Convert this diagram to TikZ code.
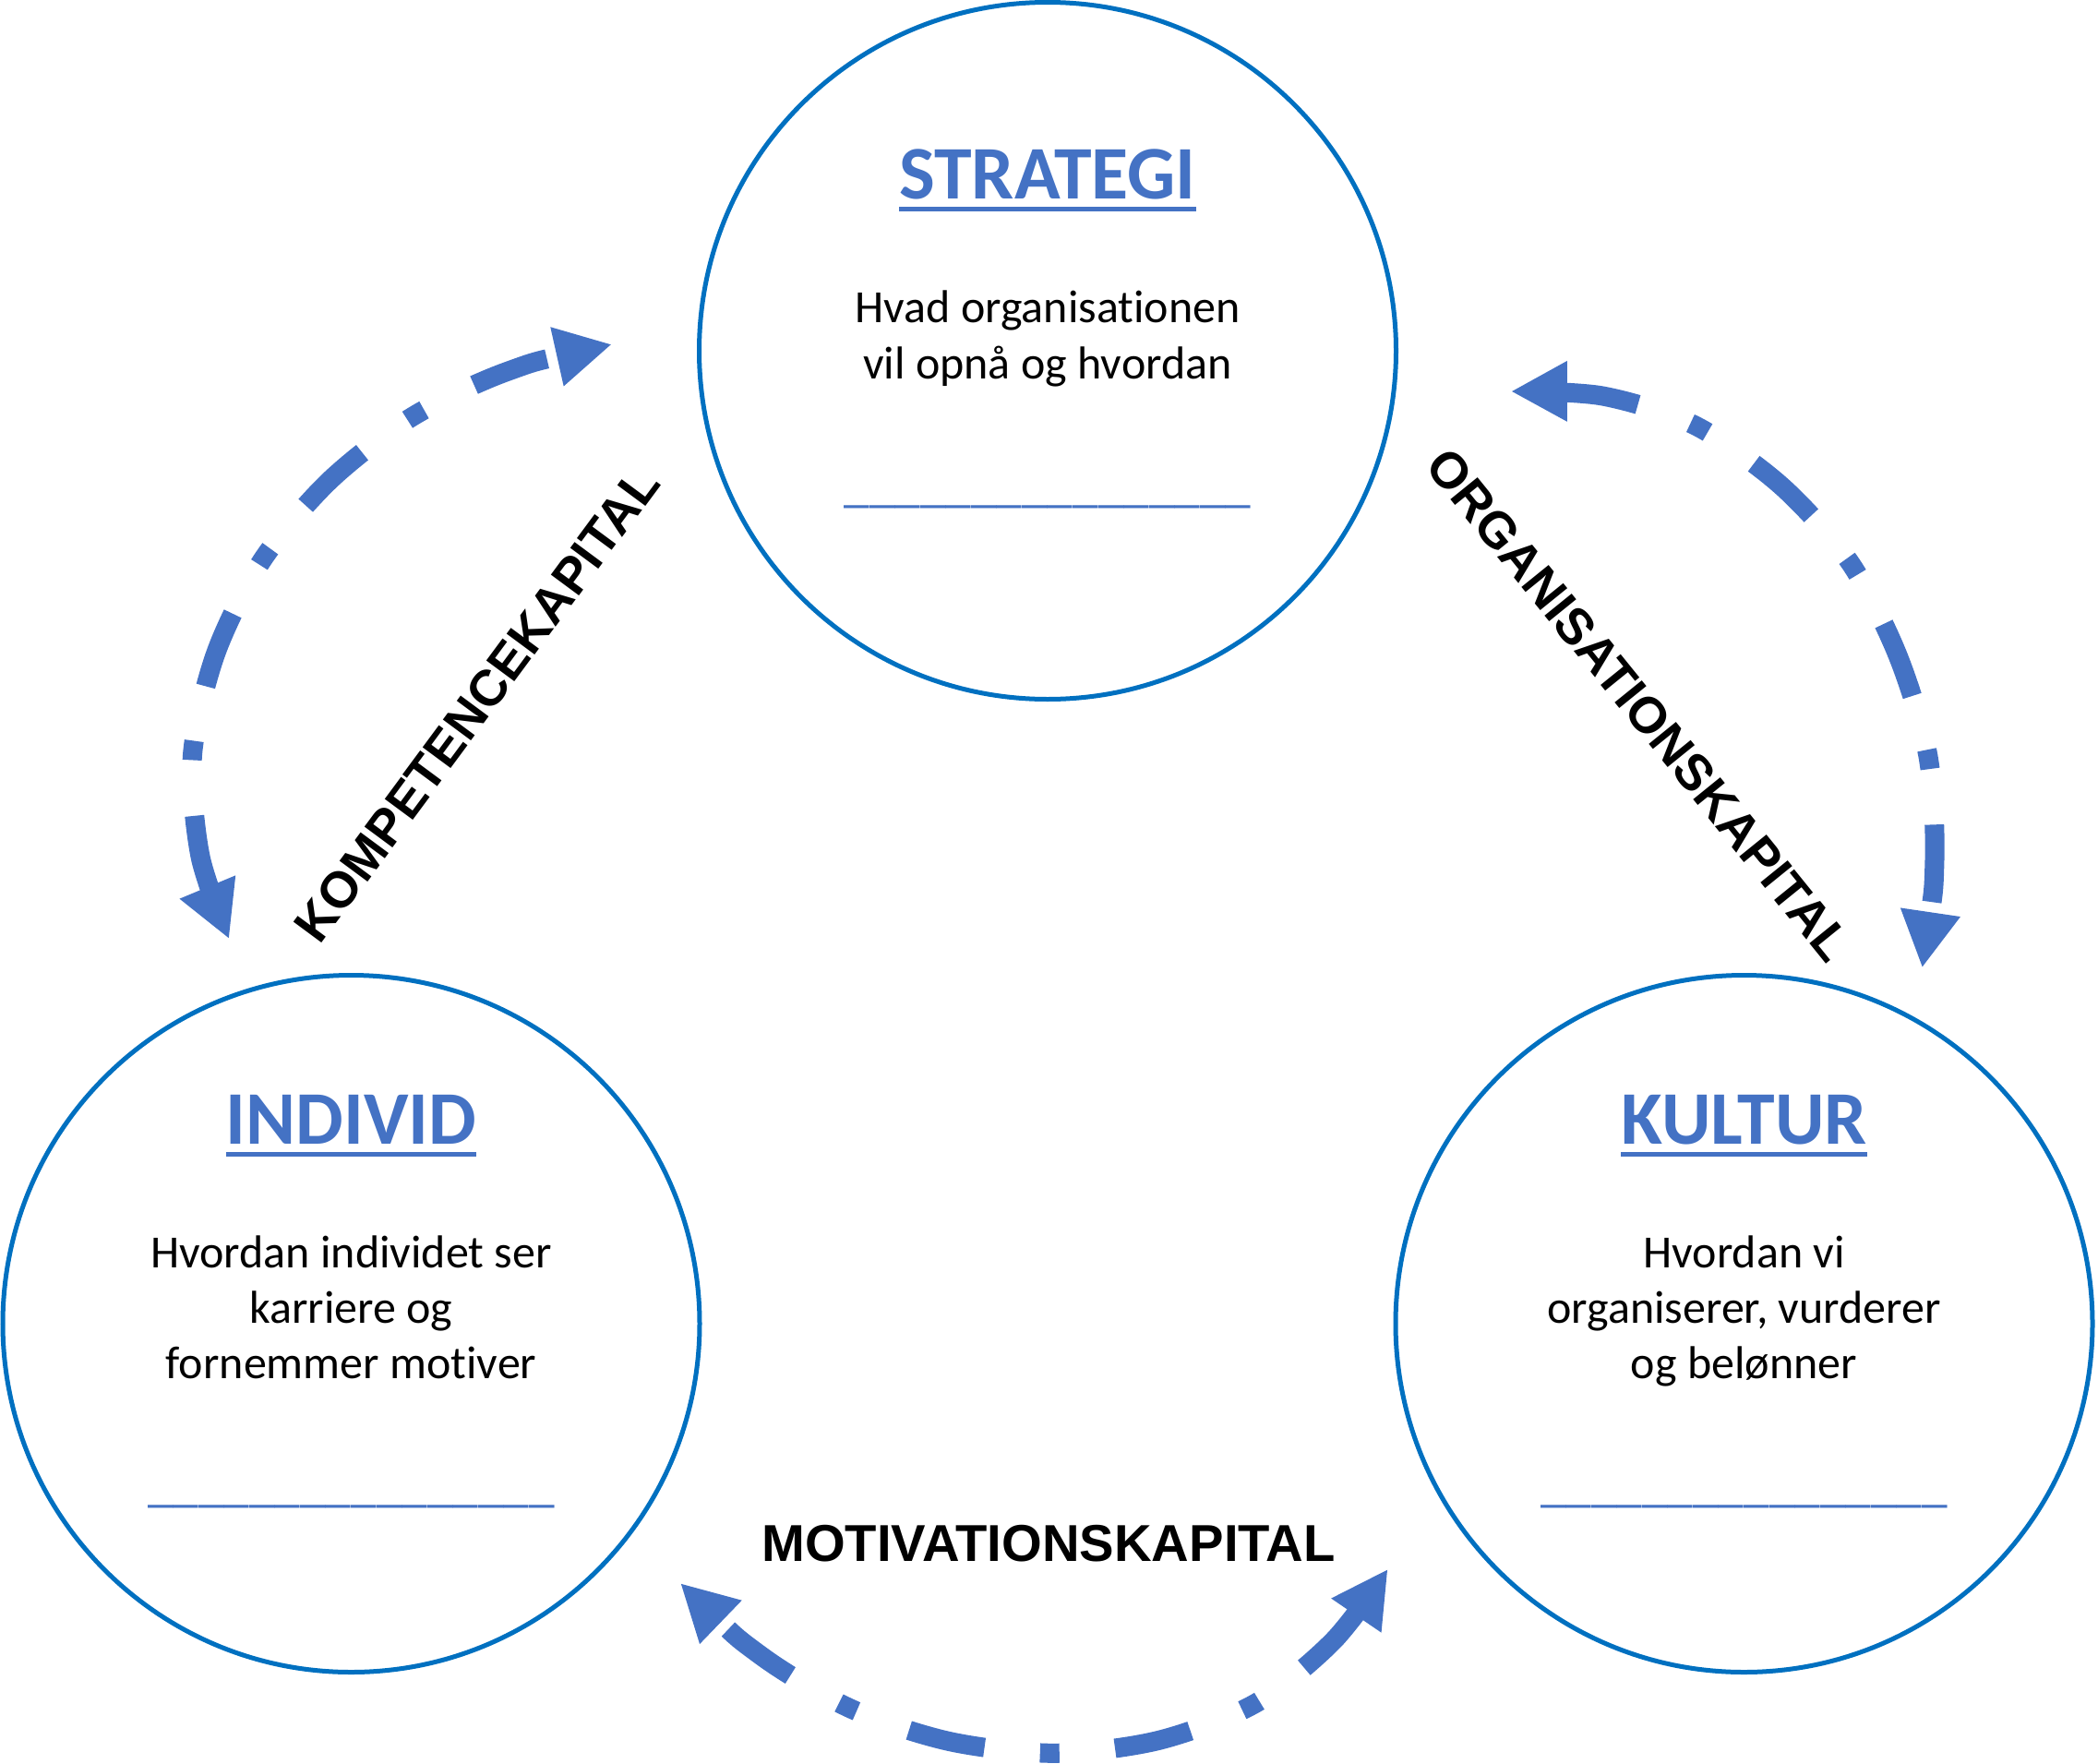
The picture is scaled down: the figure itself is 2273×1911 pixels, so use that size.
\documentclass[tikz,border=0pt]{standalone}
\usepackage{fontspec}
\setmainfont{Carlito}[Ligatures=NoCommon]
\newfontfamily\labfont{Liberation Sans}
\usetikzlibrary{arrows.meta}
\definecolor{ringblue}{HTML}{0070C0}
\definecolor{accent}{HTML}{4472C4}
\begin{document}
\begin{tikzpicture}[x=1pt,y=-1pt,
  ring/.style={circle, draw=ringblue, line width=5pt, minimum size=755pt, inner sep=0pt},
  ttl/.style={font=\fontsize{82}{98}\selectfont\bfseries, text=accent, inner sep=0pt, anchor=base},
  body/.style={font=\fontsize{50}{60}\selectfont, inner sep=0pt, anchor=base},
  blank/.style={font=\fontsize{55.3}{66}\selectfont, text=accent, inner sep=0pt, anchor=base},
  lab/.style={font=\labfont\bfseries\fontsize{55}{66}\selectfont, inner sep=0pt},
  ul/.style={draw=accent, line width=5.3pt},
  flow/.style={draw=accent, line width=21pt,
    dash pattern=on 84pt off 60.5pt on 21pt off 60.5pt, dash phase=211pt,
    >={Triangle[length=61pt,width=61pt]}, <->},
]
\useasboundingbox (0,0) rectangle (2273,1911);

% circles
\node[ring] (S) at (1135,380) {};
\node[ring] (I) at (380.5,1434) {};
\node[ring] (K) at (1889.5,1434) {};

% STRATEGI
\node[ttl] (ST) at (1135,215) {STRATEGI};
\draw[ul] ([yshift=-11.8pt]ST.base west) -- ([yshift=-11.8pt]ST.base east);
\node[body] (S1) at (1135,349.5) {Hvad organisationen};
\node[body] (S2) at (1135,410) {vil opnå og hvordan};
\node[blank] (S3) at (1135,543) {\_\_\_\_\_\_\_\_\_\_\_\_\_\_\_\_};

% INDIVID
\node[ttl] (IT) at (380.5,1239) {INDIVID};
\draw[ul] ([yshift=-11.8pt]IT.base west) -- ([yshift=-11.8pt]IT.base east);
\node[body] (I1) at (380.5,1373.5) {Hvordan individet ser};
\node[body] (I2) at (380.5,1433.5) {karriere og};
\node[body] (I3) at (380.5,1493.5) {fornemmer motiver};
\node[blank] (I4) at (380.5,1626.5) {\_\_\_\_\_\_\_\_\_\_\_\_\_\_\_\_};

% KULTUR
\node[ttl] (KT) at (1889.5,1239) {KULTUR};
\draw[ul] ([yshift=-11.8pt]KT.base west) -- ([yshift=-11.8pt]KT.base east);
\node[body] (K1) at (1889.5,1373.5) {Hvordan vi};
\node[body] (K2) at (1889.5,1433.5) {organiserer, vurderer};
\node[body] (K3) at (1889.5,1493.5) {og belønner};
\node[blank] (K4) at (1889.5,1626.5) {\_\_\_\_\_\_\_\_\_\_\_\_\_\_\_\_};

% labels
\node[lab, rotate=53.5] (KK) at (516.8,763) {KOMPETENCEKAPITAL};
\node[lab, rotate=-51] (OK) at (1775.8,763.5) {ORGANISATIONSKAPITAL};
\node[lab, font=\labfont\bfseries\fontsize{56.2}{66}\selectfont] (MK) at (1136,1672.4) {MOTIVATIONSKAPITAL};

% arc points
\coordinate (L0) at (663,373);
\coordinate (L1) at (548,403);
\coordinate (L2) at (445.8,452);
\coordinate (L3) at (356.7,521);
\coordinate (L4) at (284,607);
\coordinate (L5) at (233.8,707.7);
\coordinate (L6) at (208.5,818);
\coordinate (L7) at (217,927.8);
\coordinate (L8) at (248.3,1017.3);

\coordinate (R0) at (2082.5,1048.6);
\coordinate (R1) at (2096,931);
\coordinate (R2) at (2088.7,818);
\coordinate (R3) at (2055.6,708.9);
\coordinate (R4) at (2004,609);
\coordinate (R5) at (1929,525.6);
\coordinate (R6) at (1836.6,461);
\coordinate (R7) at (1736.3,429);
\coordinate (R8) at (1636.8,424);

\coordinate (B0) at (737,1715);
\coordinate (B1) at (825,1794);
\coordinate (B2) at (922.7,1851.5);
\coordinate (B3) at (1029,1886.6);
\coordinate (B4) at (1142.6,1899.3);
\coordinate (B5) at (1255.7,1885.3);
\coordinate (B6) at (1360.7,1845);
\coordinate (B7) at (1444.5,1777.6);
\coordinate (B8) at (1503.7,1699.7);

\draw[flow] plot[smooth] coordinates {(L0) (L1) (L2) (L3) (L4) (L5) (L6) (L7) (L8)};
\draw[flow] plot[smooth] coordinates {(R0) (R1) (R2) (R3) (R4) (R5) (R6) (R7) (R8)};
\draw[flow] plot[smooth] coordinates {(B0) (B1) (B2) (B3) (B4) (B5) (B6) (B7) (B8)};
\end{tikzpicture}
\end{document}
